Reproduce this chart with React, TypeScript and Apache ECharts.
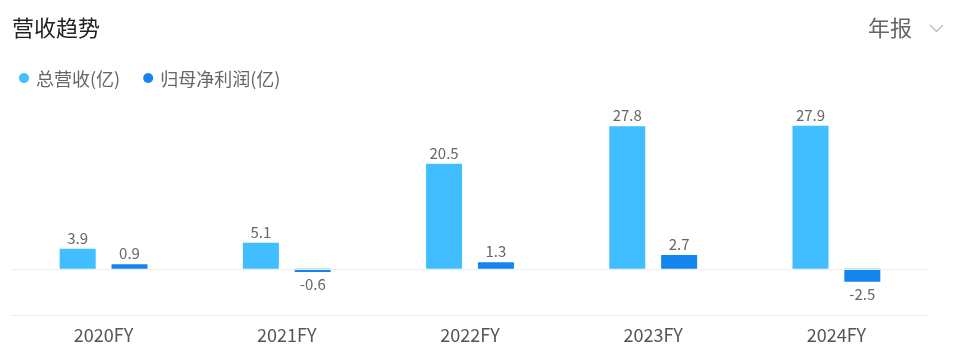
import React, { useEffect, useRef } from "react";
import * as echarts from "echarts";

const categories = ["2020FY", "2021FY", "2022FY", "2023FY", "2024FY"];
const revenue = [3.9, 5.1, 20.5, 27.8, 27.9];
const netProfit = [0.9, -0.6, 1.3, 2.7, -2.5];
const seriesNames = ["总营收(亿)", "归母净利润(亿)"];
const colors = ["#40BEFF", "#1485EE"];

const FONT = '"Noto Sans CJK SC", "Noto Sans", sans-serif';

function toData(values: number[]) {
  return values.map((v) => ({
    value: v,
    label: { position: v < 0 ? "bottom" : "top" },
  }));
}

export default function App() {
  const ref = useRef<HTMLDivElement>(null);
  useEffect(() => {
    if (!ref.current) return;
    const chart = echarts.init(ref.current, undefined, { renderer: "svg" });
    const labelCfg = {
      show: true,
      color: "#666",
      fontSize: 15,
      fontFamily: FONT,
      distance: 4,
    };
    chart.setOption({
      animation: false,
      textStyle: { fontFamily: FONT },
      title: {
        text: "营收趋势",
        left: 12,
        top: 15,
        padding: 0,
        textStyle: { fontSize: 22, fontWeight: "normal", color: "#222", fontFamily: FONT },
      },
      graphic: [
        {
          type: "text",
          left: 868,
          top: 15,
          style: { text: "年报", fontSize: 22, fill: "#666", fontFamily: FONT },
        },
        {
          type: "polyline",
          shape: { points: [[930, 25], [936.5, 31.5], [943, 25]] },
          style: { stroke: "#bbb", lineWidth: 1.3, fill: null },
        },
      ],
      legend: {
        left: 19,
        top: 69,
        padding: 0,
        icon: "circle",
        itemWidth: 14,
        itemHeight: 10,
        itemGap: 23,
        textStyle: { fontSize: 18, color: "#666", fontFamily: FONT },
        data: seriesNames,
      },
      grid: { left: 12, right: 26, top: 115, bottom: 48, containLabel: false },
      xAxis: {
        type: "category",
        data: categories,
        axisLine: { show: true, onZero: false, lineStyle: { color: "#eee" } },
        axisTick: { show: false },
        axisLabel: { fontSize: 18, color: "#555", margin: 10, fontFamily: FONT },
      },
      yAxis: {
        type: "value",
        min: -9,
        max: 30,
        show: false,
        splitLine: { show: false },
      },
      series: [
        {
          name: seriesNames[0],
          type: "bar",
          barWidth: 36,
          barGap: "44%",
          itemStyle: { color: colors[0] },
          label: labelCfg,
          data: toData(revenue),
          markLine: {
            silent: true,
            symbol: "none",
            label: { show: false },
            lineStyle: { color: "#eee", type: "solid", width: 1 },
            data: [{ yAxis: 0 }],
          },
        },
        {
          name: seriesNames[1],
          type: "bar",
          barWidth: 36,
          barGap: "44%",
          itemStyle: { color: colors[1] },
          label: labelCfg,
          data: toData(netProfit),
        },
      ],
    });
    return () => chart.dispose();
  }, []);
  return (
    <div
      ref={ref}
      style={{ position: "fixed", left: 0, top: 0, width: 954, height: 363 }}
    />
  );
}
